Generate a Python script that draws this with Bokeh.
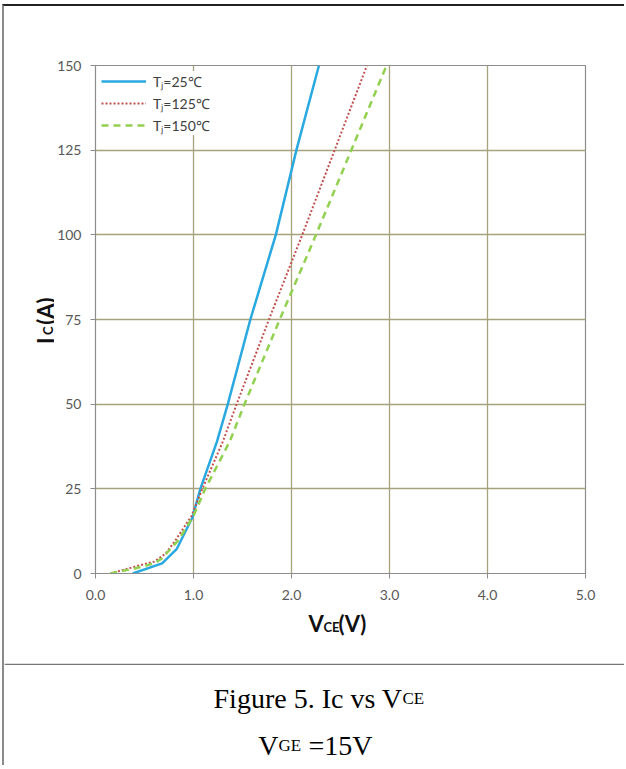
import math
from bokeh.plotting import figure
from bokeh.models import (Range1d, FixedTicker, PrintfTickFormatter,
                          Legend, LegendItem, Span)
from bokeh.layouts import column, row
from bokeh.embed import file_html
from bokeh.resources import INLINE
from bokeh.core.properties import value

# ---- data ----
vce_25 = [0.38, 0.68, 0.83, 0.99, 1.07, 1.24, 1.35, 1.58, 1.84, 2.05, 2.28]
ic_25 = [0, 3, 7.3, 16.6, 25, 39, 50, 75, 100, 125, 150]

vce_125 = [0.15, 0.40, 0.60, 0.72, 0.82, 0.98, 1.09, 1.30, 1.44, 1.77, 2.11, 2.44, 2.77]
ic_125 = [0, 2, 3.5, 6, 10, 17, 25, 39, 50, 75, 100, 125, 150]

vce_150 = [0.15, 0.40, 0.60, 0.68, 0.85, 1.00, 1.12, 1.37, 1.52, 1.88, 2.25, 2.61, 2.97]
ic_150 = [0, 1.5, 3, 4.5, 10, 17, 25, 39, 50, 75, 100, 125, 150]

x_ticks = [0, 1, 2, 3, 4, 5]
y_ticks = [0, 25, 50, 75, 100, 125, 150]
series_labels = ["T\u2c7c=25\u2103", "T\u2c7c=125\u2103", "T\u2c7c=150\u2103"]

FONT = "Lato"
GRID = "#a8a27c"
AXC = "#8c8c8c"

TOP, BOTTOM = 59, 32  # borders of the chart figure around its plot frame


def blank(width, height, xr, yr, **kw):
    f = figure(width=width, height=height, output_backend="svg",
               toolbar_location=None, x_range=Range1d(*xr), y_range=Range1d(*yr),
               x_axis_type=None, y_axis_type=None, **kw)
    f.grid.visible = False
    f.outline_line_color = None
    f.background_fill_color = "white"
    f.border_fill_color = "white"
    return f


tf = value(FONT)

# ---- y-axis title panel (frame aligned with the chart's frame) ----
ylab = blank(50, 599, (0, 50), (0, 508), min_border_left=0, min_border_right=0,
             min_border_top=TOP, min_border_bottom=BOTTOM)
ylab.text(x=[41], y=[236], text=["I"], text_font=tf, text_font_size="22px",
          text_font_style="bold", angle=math.pi / 2, text_align="right",
          text_baseline="alphabetic", text_color="#111111")
ylab.text(x=[43], y=[247], text=["C"], text_font=tf, text_font_size="13px",
          text_font_style="bold", angle=math.pi / 2, text_align="right",
          text_baseline="alphabetic", text_color="#111111")
ylab.text(x=[41], y=[276], text=["(A)"], text_font=tf, text_font_size="22px",
          text_font_style="bold", angle=math.pi / 2, text_align="right",
          text_baseline="alphabetic", text_color="#111111")

# ---- main chart ----
p = figure(width=570, height=599, output_backend="svg", toolbar_location=None,
           x_range=Range1d(0, 5), y_range=Range1d(0, 150),
           min_border_left=37, min_border_right=39, min_border_top=TOP,
           min_border_bottom=BOTTOM)
p.background_fill_color = "white"
p.border_fill_color = "white"
p.outline_line_color = AXC
p.outline_line_width = 1.2

for ax in (p.xaxis[0], p.yaxis[0]):
    ax.axis_line_color = AXC
    ax.major_tick_line_color = AXC
    ax.minor_tick_line_color = None
    ax.major_tick_out = 5
    ax.major_tick_in = 0
    ax.major_label_text_font = FONT
    ax.major_label_text_font_size = "14px"
    ax.major_label_text_color = "#595959"

p.xaxis.ticker = FixedTicker(ticks=x_ticks)
p.xaxis.formatter = PrintfTickFormatter(format="%.1f")
p.xaxis.major_label_standoff = 11
p.yaxis.ticker = FixedTicker(ticks=y_ticks)
p.yaxis.major_label_standoff = 9

p.xgrid.grid_line_color = GRID
p.ygrid.grid_line_color = GRID
p.xgrid.grid_line_width = 1.3
p.ygrid.grid_line_width = 1.3

r1 = p.line(vce_25, ic_25, line_color="#2aa8e0", line_width=2.5)
r2 = p.line(vce_125, ic_125, line_color="#c0504d", line_width=2, line_dash="2 2")
r3 = p.line(vce_150, ic_150, line_color="#92d050", line_width=2.5, line_dash="7 5")

legend = Legend(items=[LegendItem(label=series_labels[0], renderers=[r1]),
                       LegendItem(label=series_labels[1], renderers=[r2]),
                       LegendItem(label=series_labels[2], renderers=[r3])],
                location=(6, 438), margin=0, padding=3, spacing=2,
                glyph_width=45, glyph_height=20, label_height=20,
                label_standoff=7, label_text_font=FONT,
                label_text_font_size="14px", label_text_color="#404040",
                background_fill_color="white", background_fill_alpha=1.0,
                border_line_color=None)
p.add_layout(legend)

# ---- x-axis title panel ----
xlab = blank(620, 58, (0, 620), (0, 58), min_border=0)
xlab.text(x=[304], y=[40], text=["V"], text_font=tf, text_font_size="22px",
          text_font_style="bold", text_align="left", text_baseline="alphabetic",
          text_color="#111111")
xlab.text(x=[319], y=[37], text=["CE"], text_font=tf, text_font_size="13px",
          text_font_style="bold", text_align="left", text_baseline="alphabetic",
          text_color="#111111")
xlab.text(x=[334], y=[40], text=["(V)"], text_font=tf, text_font_size="22px",
          text_font_style="bold", text_align="left", text_baseline="alphabetic",
          text_color="#111111")

# ---- caption panel ----
cap = blank(620, 102, (0, 620), (102, 0), min_border=0)
cap.add_layout(Span(location=0.8, dimension="width", line_color="#777777", line_width=1.5))

serif = value("Liberation Serif")
cap.text(x=[398], y=[35], text=["Figure 5. Ic vs V"], text_font=serif,
         text_font_size="28px", text_align="right", text_baseline="alphabetic",
         text_color="#000000")
cap.text(x=[398], y=[35], text=["CE"], text_font=serif,
         text_font_size="17px", text_align="left", text_baseline="alphabetic",
         text_color="#000000")
cap.text(x=[274], y=[82], text=["V"], text_font=serif,
         text_font_size="28px", text_align="right", text_baseline="alphabetic",
         text_color="#000000")
cap.text(x=[274], y=[82], text=["GE"], text_font=serif,
         text_font_size="17px", text_align="left", text_baseline="alphabetic",
         text_color="#000000")
cap.text(x=[304], y=[82], text=["=15V"], text_font=serif,
         text_font_size="28px", text_align="left", text_baseline="alphabetic",
         text_color="#000000")

layout = column(row(ylab, p, spacing=0), xlab, cap, spacing=0,
                styles={"margin-top": "4px", "margin-left": "2px",
                        "border-top": "2px solid #222222",
                        "border-left": "2px solid #8a8a8a"})

open("out.html", "w").write(file_html(layout, INLINE))
